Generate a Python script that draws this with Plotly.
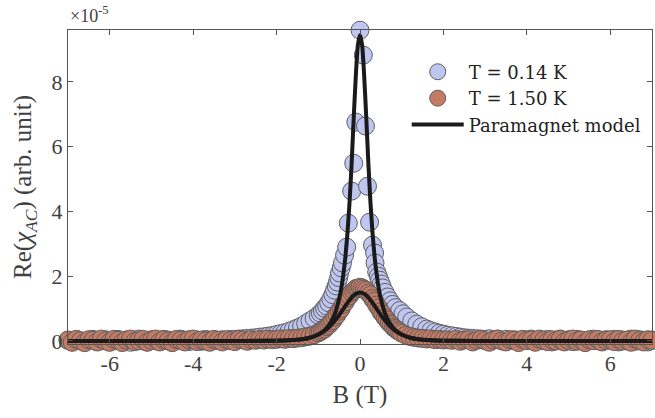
import plotly.graph_objects as go

# ---------------- data (values in units of 1e-5) ----------------
# T = 0.14 K measurement
blue_x = [
    -7.0, -6.9, -6.8, -6.7, -6.6, -6.5, -6.4, -6.3, -6.2, -6.1,
    -6.0, -5.9, -5.8, -5.7, -5.6, -5.5, -5.4, -5.3, -5.2, -5.1,
    -5.0, -4.9, -4.8, -4.7, -4.6, -4.5, -4.4, -4.3, -4.2, -4.1,
    -4.0, -3.9, -3.8, -3.7, -3.6, -3.5, -3.4, -3.3, -3.2, -3.1,
    -3.0, -2.9, -2.8, -2.7, -2.6, -2.5, -2.4, -2.3,
    -2.2, -2.1, -2.0, -1.9, -1.8, -1.7, -1.6, -1.5, -1.4, -1.3,
    -1.2, -1.1, -1.0, -0.95, -0.9, -0.85, -0.8, -0.75, -0.7, -0.65,
    -0.61, -0.57, -0.54, -0.51, -0.49, -0.45, -0.42, -0.37, -0.32, -0.28,
    -0.2, -0.15, -0.1, 0.0, 0.08, 0.13, 0.18, 0.23, 0.30, 0.35,
    0.36, 0.40, 0.44, 0.47, 0.51, 0.54, 0.60, 0.66, 0.72, 0.78,
    0.85, 0.95, 1.03, 1.12, 1.24, 1.36, 1.48, 1.60, 1.7, 1.8,
    1.9, 2.0, 2.1, 2.2, 2.3, 2.4, 2.5, 2.6, 2.7, 2.8,
    2.9, 3.0,
    3.1, 3.2, 3.3, 3.4, 3.5, 3.6, 3.7, 3.8, 3.9, 4.0,
    4.1, 4.2, 4.3, 4.4, 4.5, 4.6, 4.7, 4.8, 4.9, 5.0,
    5.1, 5.2, 5.3, 5.4, 5.5, 5.6, 5.7, 5.8, 5.9, 6.0,
    6.1, 6.2, 6.3, 6.4, 6.5, 6.6, 6.7, 6.8, 6.9, 7.0,
]
blue_y = [
    0.02, -0.03, 0.04, 0.00, -0.04, 0.03, 0.05, -0.02, 0.01, 0.04,
    -0.03, 0.02, 0.05, -0.01, 0.03, -0.04, 0.02, 0.06, 0.00, -0.03,
    0.04, 0.01, -0.02, 0.05, 0.03, -0.04, 0.02, 0.06, 0.01, -0.02,
    0.04, 0.03, -0.01, 0.05, 0.02, 0.03, 0.01, 0.04, 0.02, 0.05,
    0.05, 0.06, 0.07, 0.08, 0.09, 0.10, 0.12, 0.13,
    0.15, 0.17, 0.20, 0.23, 0.26, 0.30, 0.35, 0.40, 0.46, 0.54,
    0.62, 0.70, 0.80, 0.86, 0.93, 1.01, 1.08, 1.18, 1.30, 1.43,
    1.57, 1.70, 1.82, 1.96, 2.10, 2.26, 2.41, 2.65, 2.90, 3.64,
    4.63, 5.49, 6.76, 9.60, 8.83, 6.64, 4.78, 3.67, 2.96, 2.72,
    2.41, 2.13, 2.00, 1.88, 1.76, 1.64, 1.50, 1.36, 1.24, 1.13,
    1.03, 0.94, 0.84, 0.74, 0.62, 0.52, 0.44, 0.37, 0.32, 0.28,
    0.24, 0.21, 0.18, 0.16, 0.14, 0.12, 0.10, 0.09, 0.08, 0.07,
    0.06, 0.05,
    0.07, 0.03, 0.06, 0.01, 0.05, 0.02, 0.04, -0.01, 0.04, 0.03,
    0.06, -0.02, 0.04, 0.01, 0.05, -0.03, 0.03, 0.06, 0.00, 0.04,
    -0.02, 0.05, 0.02, -0.04, 0.03, 0.06, 0.01, -0.02, 0.04, 0.02,
    0.05, -0.03, 0.03, 0.00, 0.06, -0.01, 0.04, 0.02, -0.03, 0.03,
]

# T = 1.50 K measurement
orange_x = [
    -7.0, -6.9, -6.8, -6.7, -6.6, -6.5, -6.4, -6.3, -6.2, -6.1,
    -6.0, -5.9, -5.8, -5.7, -5.6, -5.5, -5.4, -5.3, -5.2, -5.1,
    -5.0, -4.9, -4.8, -4.7, -4.6, -4.5, -4.4, -4.3, -4.2, -4.1,
    -4.0, -3.9, -3.8, -3.7, -3.6, -3.5, -3.4, -3.3, -3.2, -3.1,
    -3.0, -2.9, -2.8, -2.7, -2.6, -2.5, -2.4, -2.3, -2.2, -2.1,
    -2.0, -1.9, -1.8, -1.7, -1.6, -1.5, -1.4, -1.3, -1.2, -1.1,
    -1.0, -0.95, -0.9, -0.85, -0.8, -0.75, -0.7, -0.65, -0.6, -0.55,
    -0.5, -0.45, -0.4, -0.35, -0.3, -0.25, -0.2, -0.15, -0.1, -0.05,
    0.0, 0.05, 0.1, 0.15, 0.2, 0.25, 0.3, 0.35, 0.4, 0.45,
    0.5, 0.55, 0.6, 0.65, 0.7, 0.75, 0.8, 0.85, 0.9, 0.95,
    1.0,
    1.1, 1.2, 1.3, 1.4, 1.5, 1.6, 1.7, 1.8, 1.9, 2.0,
    2.1, 2.2, 2.3, 2.4, 2.5, 2.6, 2.7, 2.8, 2.9, 3.0,
    3.1, 3.2, 3.3, 3.4, 3.5, 3.6, 3.7, 3.8, 3.9, 4.0,
    4.1, 4.2, 4.3, 4.4, 4.5, 4.6, 4.7, 4.8, 4.9, 5.0,
    5.1, 5.2, 5.3, 5.4, 5.5, 5.6, 5.7, 5.8, 5.9, 6.0,
    6.1, 6.2, 6.3, 6.4, 6.5, 6.6, 6.7, 6.8, 6.9, 7.0,
]
orange_y = [
    0.03, -0.04, 0.05, 0.01, -0.05, 0.04, 0.02, -0.03, 0.06, 0.00,
    -0.04, 0.05, 0.02, -0.05, 0.03, 0.06, -0.02, 0.01, 0.05, -0.04,
    0.02, 0.06, -0.03, 0.04, 0.00, -0.05, 0.05, 0.02, -0.03, 0.04,
    0.06, -0.02, 0.03, 0.00, -0.04, 0.05, 0.02, -0.03, 0.04, 0.01,
    -0.02, 0.05, 0.03, -0.01, 0.04, 0.02, 0.05, 0.03, 0.06, 0.04,
    0.05, 0.07, 0.05, 0.08, 0.07, 0.09, 0.10, 0.13, 0.15, 0.19,
    0.25, 0.29, 0.33, 0.37, 0.44, 0.49, 0.57, 0.63, 0.74, 0.81,
    0.92, 1.00, 1.13, 1.21, 1.33, 1.40, 1.50, 1.55, 1.62, 1.63,
    1.66, 1.64, 1.60, 1.56, 1.48, 1.42, 1.31, 1.23, 1.11, 1.02,
    0.90, 0.83, 0.72, 0.65, 0.56, 0.50, 0.42, 0.38, 0.32, 0.29,
    0.24,
    0.18, 0.14, 0.11, 0.09, 0.08, 0.06, 0.07, 0.04, 0.05, 0.03,
    0.04, 0.02, 0.05, -0.01, 0.03, 0.04, -0.03, 0.02, 0.05, 0.01,
    -0.04, 0.03, 0.06, 0.00, -0.03, 0.04, 0.02, -0.05, 0.05, 0.01,
    0.03, -0.04, 0.06, 0.02, -0.02, 0.04, 0.00, 0.05, -0.03, 0.02,
    0.06, -0.01, 0.03, -0.05, 0.04, 0.01, 0.05, -0.03, 0.02, 0.04,
    -0.02, 0.05, 0.00, 0.03, -0.04, 0.06, 0.01, -0.03, 0.04, 0.02,
]

# Paramagnet model curves
model_lo_x = [-7.0, -3.0, -2.5, -2.0, -1.7, -1.4, -1.2, -1.0, -0.9, -0.8,
              -0.7, -0.6, -0.5, -0.45, -0.4, -0.35, -0.3, -0.25, -0.2, -0.15,
              -0.1, -0.05, 0.0, 0.05, 0.1, 0.15, 0.2, 0.25, 0.3, 0.35,
              0.4, 0.45, 0.5, 0.6, 0.7, 0.8, 0.9, 1.0, 1.2, 1.4,
              1.7, 2.0, 2.5, 3.0, 7.0]
model_lo_y = [0.0, 0.0, 0.005, 0.01, 0.02, 0.05, 0.10, 0.20, 0.28, 0.40,
              0.58, 0.85, 1.30, 1.62, 2.05, 2.60, 3.35, 4.30, 5.50, 6.90,
              8.20, 9.15, 9.45, 9.15, 8.20, 6.90, 5.50, 4.30, 3.35, 2.60,
              2.05, 1.62, 1.30, 0.85, 0.58, 0.40, 0.28, 0.20, 0.10, 0.05,
              0.02, 0.01, 0.005, 0.0, 0.0]

model_hi_x = [-7.0, -3.0, -2.5, -2.0, -1.7, -1.4, -1.2, -1.0, -0.9, -0.8,
              -0.7, -0.6, -0.5, -0.4, -0.3, -0.2, -0.1, 0.0, 0.1, 0.2,
              0.3, 0.4, 0.5, 0.6, 0.7, 0.8, 0.9, 1.0, 1.2, 1.4,
              1.7, 2.0, 2.5, 3.0, 7.0]
model_hi_y = [0.0, 0.0, 0.002, 0.008, 0.02, 0.055, 0.106, 0.20, 0.27, 0.364,
              0.485, 0.63, 0.80, 0.99, 1.18, 1.35, 1.46, 1.50, 1.46, 1.35,
              1.18, 0.99, 0.80, 0.63, 0.485, 0.364, 0.27, 0.20, 0.106, 0.055,
              0.02, 0.008, 0.002, 0.0, 0.0]

x_ticks = [-6, -4, -2, 0, 2, 4, 6]
x_tick_labels = ["-6", "-4", "-2", "0", "2", "4", "6"]
y_ticks = [0, 2, 4, 6, 8]
y_tick_labels = ["0", "2", "4", "6", "8"]
SCALE = 1e-5

FONT = "Liberation Serif"
LEG_FONT = "DejaVu Serif"
TXT = "#404040"
BLUE = "#bfc6f0"
ORANGE = "#c47a63"
EDGE = "#5f5f5f"

fig = go.Figure()
fig.add_trace(go.Scatter(
    x=blue_x, y=[v * SCALE for v in blue_y], mode="markers",
    name="T = 0.14 K", cliponaxis=False,
    marker=dict(size=18, color=BLUE, line=dict(color=EDGE, width=1)),
))
fig.add_trace(go.Scatter(
    x=orange_x, y=[v * SCALE for v in orange_y], mode="markers",
    name="T = 1.50 K", cliponaxis=False,
    marker=dict(size=18, color=ORANGE, line=dict(color=EDGE, width=1)),
))
fig.add_trace(go.Scatter(
    x=model_lo_x, y=[v * SCALE for v in model_lo_y], mode="lines",
    name="Paramagnet model", line=dict(color="#1a1a1a", width=4, shape="spline", smoothing=0.6),
))
fig.add_trace(go.Scatter(
    x=model_hi_x, y=[v * SCALE for v in model_hi_y], mode="lines",
    showlegend=False, line=dict(color="#1a1a1a", width=4, shape="spline", smoothing=0.6),
))

axis_common = dict(
    showline=True, linecolor="#555555", linewidth=1, mirror="ticks",
    ticks="inside", ticklen=5, tickcolor="#555555", showgrid=False, zeroline=False,
    tickfont=dict(family=FONT, size=22, color=TXT),
)
fig.update_xaxes(
    range=[-7, 7], tickvals=x_ticks, ticktext=x_tick_labels,
    title=dict(text="B (T)", font=dict(family=FONT, size=25, color=TXT), standoff=10),
    **axis_common,
)
fig.update_yaxes(
    range=[-0.093 * SCALE, 9.606 * SCALE],
    tickvals=[t * SCALE for t in y_ticks], ticktext=y_tick_labels,
    title=dict(text="Re(<i>χ</i><sub><i>AC</i></sub>) (arb. unit)",
               font=dict(family=FONT, size=25, color=TXT), standoff=12),
    **axis_common,
)
fig.add_annotation(
    xref="paper", yref="paper", x=0, y=1, xanchor="left", yanchor="bottom",
    yshift=2, text="×10<sup>-5</sup>", showarrow=False,
    font=dict(family=FONT, size=18, color=TXT),
)
fig.update_layout(
    width=655, height=418,
    margin=dict(l=68, r=3, t=30, b=74),
    paper_bgcolor="white", plot_bgcolor="white",
    legend=dict(x=0.580, y=0.925, xanchor="left", yanchor="top", itemwidth=52,
                bgcolor="rgba(0,0,0,0)", font=dict(family=LEG_FONT, size=18, color="#222222"),
                tracegroupgap=0),
    showlegend=True,
)
fig.write_html("out.html")
